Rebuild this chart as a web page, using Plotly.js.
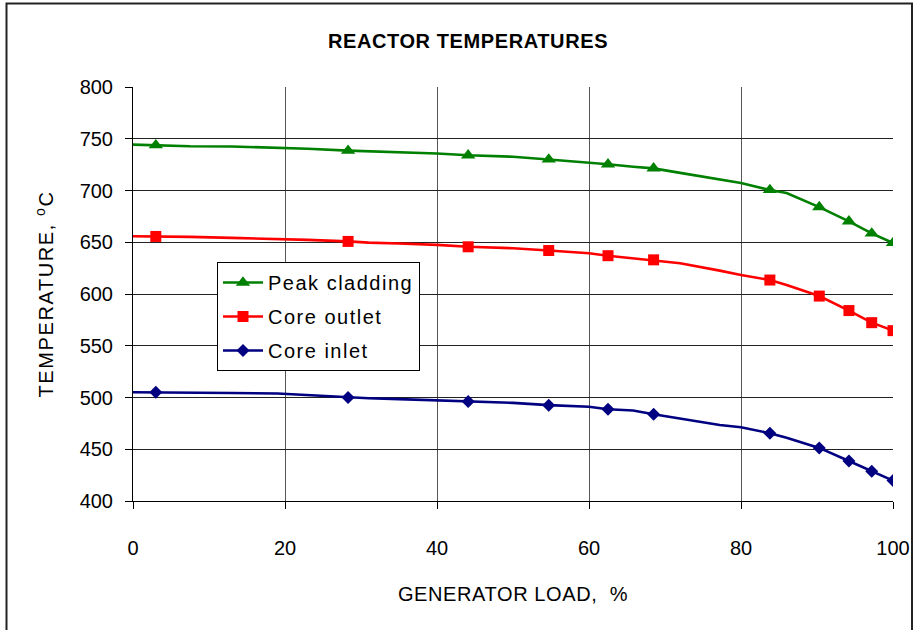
<!DOCTYPE html>
<html>
<head>
<meta charset="utf-8">
<script src="https://cdn.plot.ly/plotly-3.0.1.min.js"></script>
<style>
  html, body { margin: 0; padding: 0; background: #fff; }
  #chart { width: 915px; height: 630px; }
  .legendtext { letter-spacing: 1.5px; }
  .gtitle { letter-spacing: 0.6px; }
  .xtitle { letter-spacing: 0.6px; }
  .ytitle { letter-spacing: 1.6px; }
</style>
</head>
<body>
<div id="chart"></div>
<script>
// Generator load (%) along the drawn curves
const loadCurve = [0, 3, 7.5, 13, 19, 23, 28.3, 31, 35, 40, 44.1, 50, 54.7, 60, 62.5, 65.8, 68.5, 72, 77.2, 80, 83.8, 86, 90.3, 94.2, 97.2, 100];
const peakCurve   = [744.3, 743.8, 742.7, 742.5, 741.3, 740.4, 738.5, 737.8, 737.2, 735.8, 734, 732.6, 730, 727.2, 725.3, 723, 721.4, 717, 710.4, 707.2, 700.5, 697.6, 684, 670.2, 658.5, 649.3];
const outletCurve = [655.8, 655.6, 655.2, 654.2, 653.3, 652.3, 650.8, 649.6, 648.8, 647.5, 645.6, 644.2, 642, 639.4, 637, 634.5, 633, 629.7, 622.6, 618.4, 613.5, 608.7, 598, 584, 572.3, 564.6];
const inletCurve  = [505, 505, 505, 504.4, 503.8, 502.3, 500, 499.3, 498.4, 497.2, 496.1, 494.8, 492.6, 491, 488.7, 487.5, 483.9, 480, 473.5, 471.3, 465.5, 461, 451.3, 438.7, 428.7, 419.7];

// Generator load (%) at the marked points
const loadMarks   = [3, 28.3, 44.1, 54.7, 62.5, 68.5, 83.8, 90.3, 94.2, 97.2, 100];
const peakMarks   = [743.8, 738.5, 734, 730, 725.3, 721.4, 700.5, 684, 670.2, 658.5, 649.3];
const outletMarks = [655.6, 650.8, 645.6, 642, 637, 633, 613.5, 598, 584, 572.3, 564.6];
const inletMarks  = [505, 500, 496.1, 492.6, 488.7, 483.9, 465.5, 451.3, 438.7, 428.7, 419.7];

const seriesNames = ['Peak cladding', 'Core outlet', 'Core inlet'];
const xTicks = [0, 20, 40, 60, 80, 100];
const yTicks = [400, 450, 500, 550, 600, 650, 700, 750, 800];

const FONT = 'Arial, "Liberation Sans", sans-serif';
const styles = [
  {color: '#008000', symbol: 'triangle-up', size: 12.5},
  {color: '#FF0000', symbol: 'square', size: 11},
  {color: '#000080', symbol: 'diamond', size: 10}
];
const curves = [peakCurve, outletCurve, inletCurve];
const marks = [peakMarks, outletMarks, inletMarks];
const LW = 2.6;

const traces = [];
for (let i = 2; i >= 0; i--) {
  const s = styles[i];
  traces.push({
    x: loadCurve, y: curves[i], mode: 'lines', type: 'scatter',
    line: {color: s.color, width: LW},
    showlegend: false, hoverinfo: 'skip', legendgroup: 'g' + i
  });
  traces.push({
    x: loadMarks, y: marks[i], mode: 'markers', type: 'scatter',
    marker: {color: s.color, symbol: s.symbol, size: s.size, line: {width: 0}},
    showlegend: false, name: seriesNames[i], legendgroup: 'g' + i
  });
}
for (let i = 0; i < 3; i++) {
  const s = styles[i];
  traces.push({
    x: [null], y: [null], mode: 'lines+markers', type: 'scatter',
    name: seriesNames[i], legendgroup: 'g' + i, legendrank: i + 1,
    line: {color: s.color, width: LW},
    marker: {color: s.color, symbol: s.symbol, size: s.size, line: {width: 0}}
  });
}

const L = 133, R = 893, T = 87, B = 501;
const pw = R - L, ph = B - T;
const px = v => (v - L) / pw;
const py = v => (B - v) / ph;

const layout = {
  width: 915, height: 630,
  margin: {l: L, r: 915 - R, t: T, b: 630 - B, pad: 0},
  paper_bgcolor: '#fff', plot_bgcolor: '#fff',
  font: {family: FONT, size: 20, color: '#000'},
  title: {
    text: '<b>REACTOR TEMPERATURES</b>',
    font: {family: FONT, size: 20, color: '#000'},
    x: 468 / 915, xref: 'container', xanchor: 'center',
    y: 1 - 41 / 630, yref: 'container', yanchor: 'middle'
  },
  xaxis: {
    range: [0, 100], tickvals: xTicks, ticktext: xTicks.map(String),
    showgrid: true, gridcolor: '#555', gridwidth: 1,
    showline: true, linecolor: '#000', linewidth: 1,
    ticks: 'outside', ticklen: 7, tickcolor: '#000',
    ticklabelstandoff: 22,
    tickfont: {family: FONT, size: 20, color: '#000'},
    zeroline: false, fixedrange: true,
    title: {text: '\u00a0\u00a0GENERATOR LOAD,  %', font: {family: FONT, size: 20, color: '#000'}, standoff: 28}
  },
  yaxis: {
    range: [400, 800], tickvals: yTicks, ticktext: yTicks.map(String),
    showgrid: true, gridcolor: '#222', gridwidth: 1,
    showline: true, linecolor: '#000', linewidth: 1,
    ticks: 'outside', ticklen: 7, tickcolor: '#000',
    ticklabelstandoff: 8,
    tickfont: {family: FONT, size: 20, color: '#000'},
    zeroline: false, fixedrange: true,
    title: {text: 'TEMPERATURE, <sup>o</sup>C', font: {family: FONT, size: 20, color: '#000'}, standoff: 20}
  },
  legend: {
    x: px(217), y: py(262), xanchor: 'left', yanchor: 'top',
    bgcolor: '#fff', bordercolor: '#000', borderwidth: 1,
    font: {family: FONT, size: 20, color: '#000'},
    traceorder: 'grouped', tracegroupgap: 5, itemwidth: 40
  },
  shapes: [{
    type: 'rect', xref: 'paper', yref: 'paper',
    x0: px(6.5), x1: px(912), y0: py(650), y1: py(3.5),
    line: {color: '#222', width: 2}, fillcolor: 'rgba(0,0,0,0)', layer: 'below'
  }],
  showlegend: true,
  hovermode: false
};

Plotly.newPlot('chart', traces, layout, {displayModeBar: false, staticPlot: true});
</script>
</body>
</html>
